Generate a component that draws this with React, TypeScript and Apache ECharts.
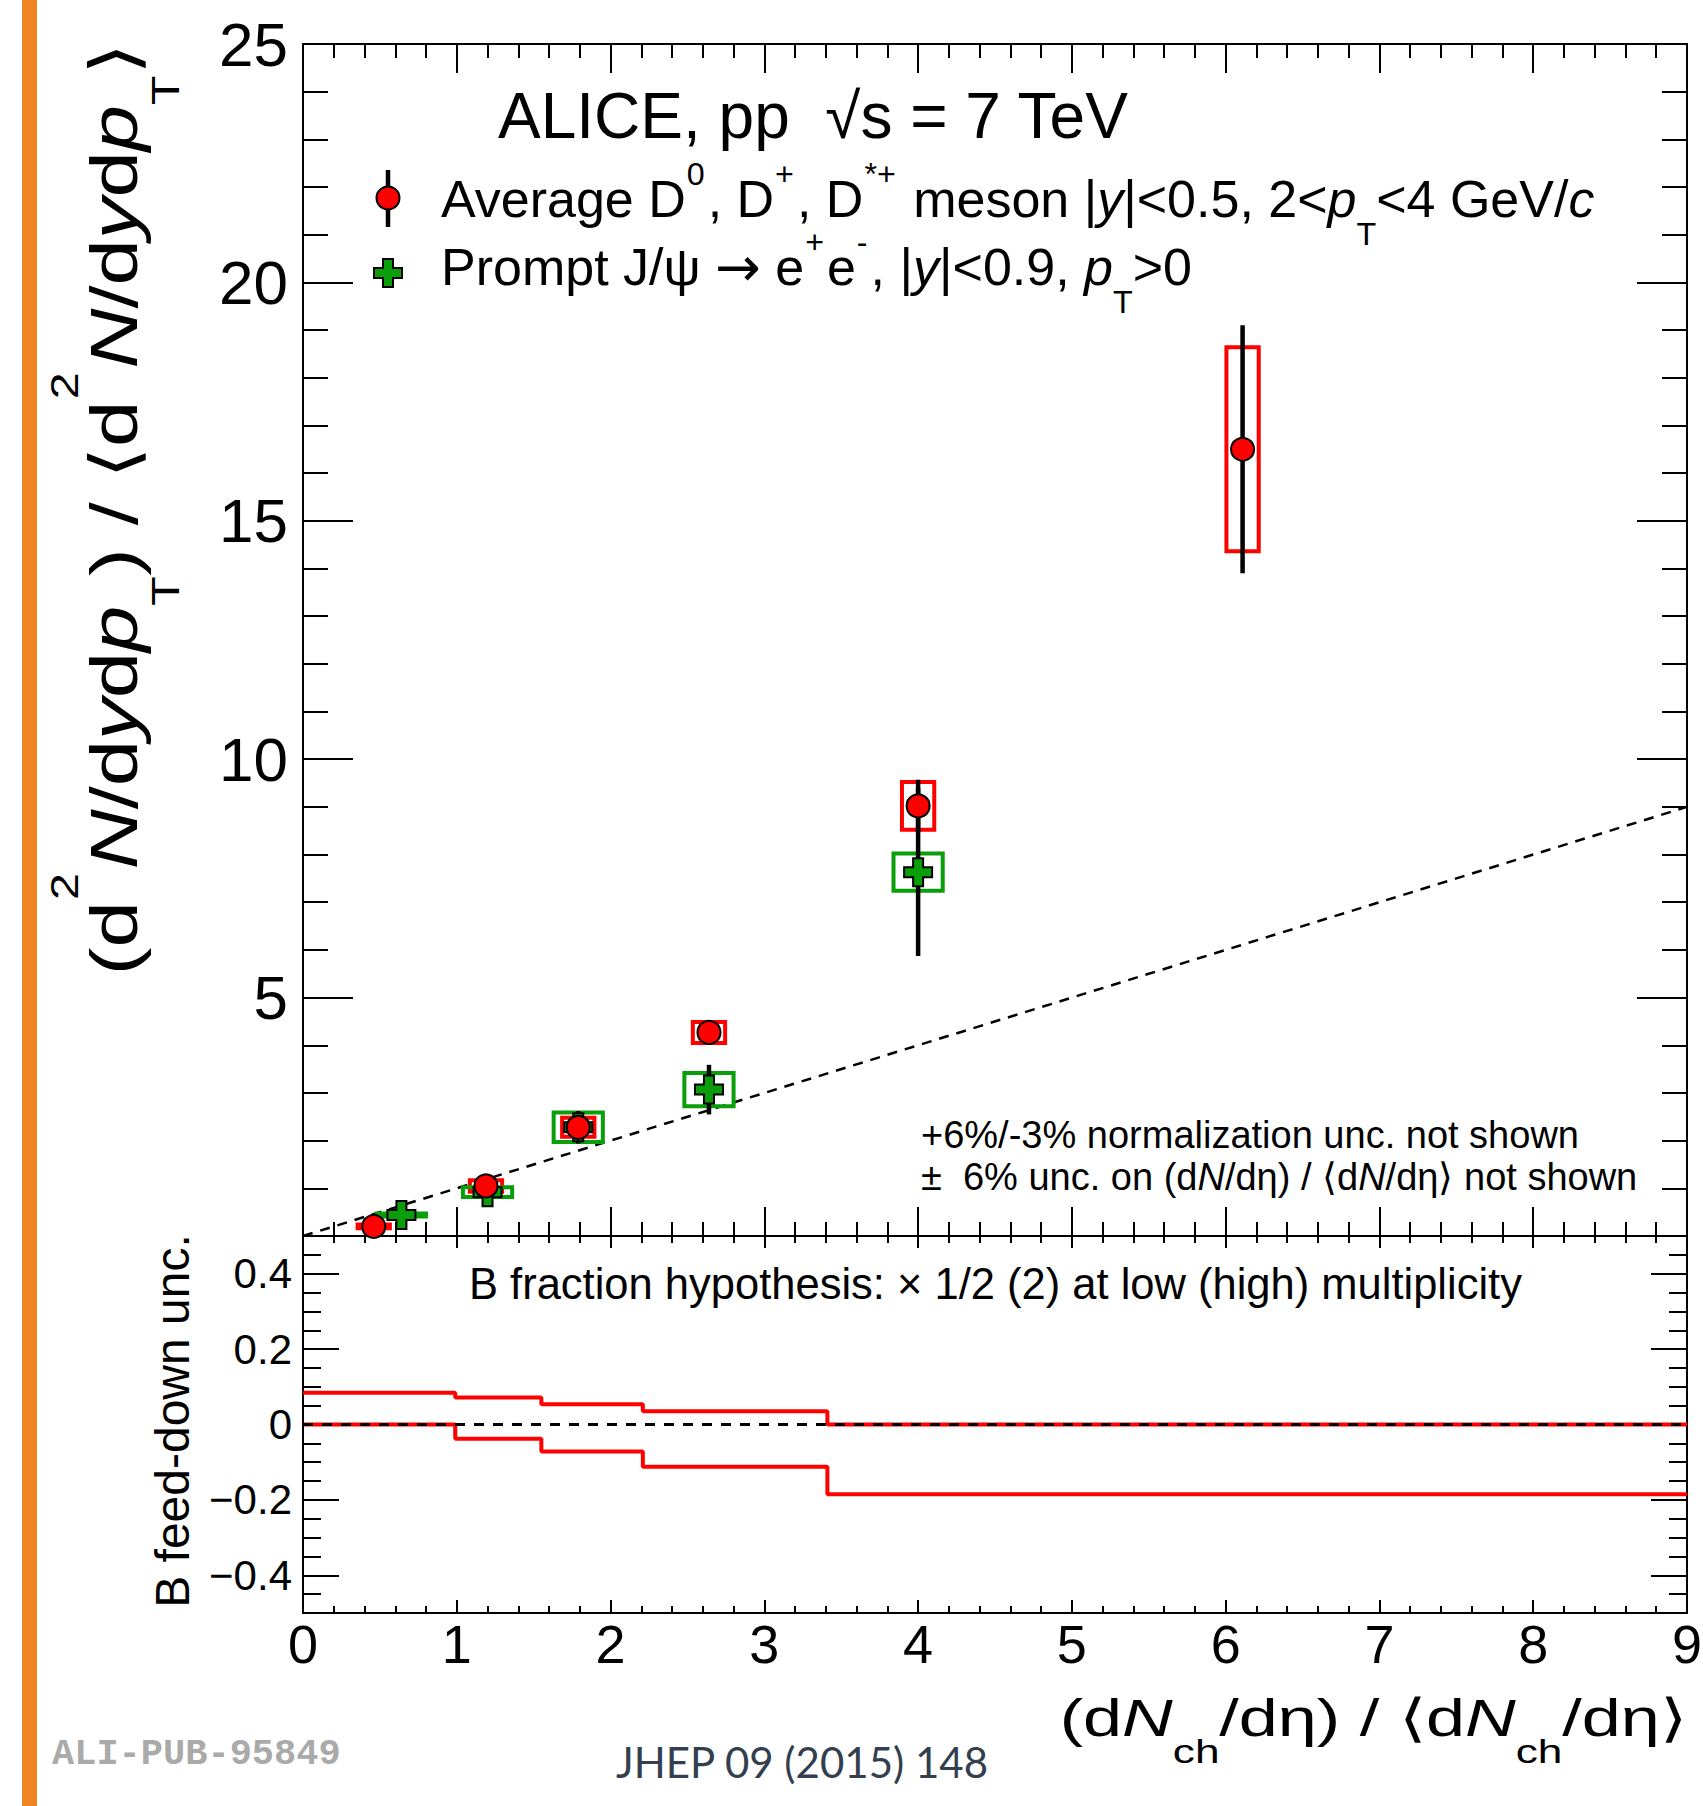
import React, { useEffect, useRef } from "react";
import * as echarts from "echarts";

const FONT = "'Liberation Sans', Arial, Helvetica, sans-serif";
const SYM_FONT = "'DejaVu Sans', 'Liberation Sans', sans-serif";

// ---------------- data ----------------
// Average D0, D+, D*+ (red circles)
const dMesonX = [0.46, 1.19, 1.79, 2.64, 4.0, 6.11];
const dMesonY = [0.2, 1.05, 2.28, 4.27, 9.02, 16.5];
const dMesonStat = [0.08, 0.19, 0.3, 0.2, 0.55, 2.6];
const dMesonSyst = [0.04, 0.12, 0.2, 0.22, 0.5, 2.14];

// Prompt J/psi (green crosses)
const jpsiX = [0.64, 1.2, 1.79, 2.64, 4.0];
const jpsiY = [0.44, 0.92, 2.28, 3.07, 7.63];
const jpsiStat = [0.28, 0.28, 0.34, 0.52, 1.76];
const jpsiSyst = [0.03, 0.1, 0.31, 0.35, 0.39];

// y = x reference line
const diagonalX = [0, 9];
const diagonalY = [0, 9];

// lower panel: B feed-down uncertainty bands
const binEdges = [0, 0.99, 1.55, 2.21, 3.41, 9];
const bFeedUpper = [0.084, 0.0715, 0.054, 0.035, 0.0];
const bFeedLower = [0.0, -0.038, -0.0715, -0.112, -0.185];
const zeroLineX = [0, 9];
const zeroLineY = [0, 0];

const lowerYMajorTicks = [-0.4, -0.2, 0, 0.2, 0.4];

// ---------------- layout / style ----------------
const PLOT_L = 303;
const PLOT_W = 1384;
const MAIN_T = 44;
const MAIN_H = 1192;
const LOW_T = 1236;
const LOW_H = 377;

const RED = "#ff0000";
const GREEN = "#0a9e0a";
const D_BOX_HALF_W = 0.105;
const JPSI_BOX_HALF_W = 0.16;
const PLUS_PATH = "path://M9,0H19V9H28V19H19V28H9V19H0V9H9Z";

const tickLine = { color: "#000", width: 2 };
const axisLine = { show: true, onZero: false, lineStyle: { color: "#000", width: 2 } };

function stepData(edges: number[], vals: number[]) {
  const d = vals.map((v, i) => [edges[i], v]);
  d.push([edges[edges.length - 1], vals[vals.length - 1]]);
  return d;
}

function richSet(F: number, supR: number, subR: number, a: number, b: number, L: number) {
  return {
    i: { fontFamily: FONT, fontSize: F, fontStyle: "italic", lineHeight: L, fill: "#000" },
    sym: { fontFamily: SYM_FONT, fontSize: F * 1.05, lineHeight: L, fill: "#000" },
    sup: {
      fontFamily: FONT,
      fontSize: F * supR,
      height: L - 2 * a * F,
      verticalAlign: "top",
      padding: [0, 3, 0, 1],
      fill: "#000",
    },
    sub: {
      fontFamily: FONT,
      fontSize: F * subR,
      height: L - 2 * b * F,
      verticalAlign: "bottom",
      fill: "#000",
    },
  };
}

function richText(
  text: string,
  x: number,
  y: number,
  F: number,
  opts: { supR?: number; subR?: number; a?: number; b?: number; Lr?: number; align?: string; rotation?: number; scaleX?: number }
) {
  const L = F * (opts.Lr ?? 1.6);
  return {
    type: "text",
    x,
    y,
    rotation: opts.rotation ?? 0,
    scaleX: opts.scaleX ?? 1,
    z: 50,
    style: {
      text,
      fontFamily: FONT,
      fontSize: F,
      lineHeight: L,
      fill: "#000",
      align: opts.align ?? "left",
      verticalAlign: "middle",
      rich: richSet(F, opts.supR ?? 0.62, opts.subR ?? 0.62, opts.a ?? 0.48, opts.b ?? 0.67, L),
    },
  };
}

function boxRender(color: string, halfW: number) {
  return (params: any, api: any) => {
    const x = api.value(0);
    const y = api.value(1);
    const e = api.value(2);
    const tl = api.coord([x - halfW, y + e]);
    const br = api.coord([x + halfW, y - e]);
    return {
      type: "rect",
      shape: { x: tl[0], y: tl[1], width: br[0] - tl[0], height: br[1] - tl[1] },
      style: { fill: "none", stroke: color, lineWidth: 4 },
    };
  };
}

function statRender(params: any, api: any) {
  const x = api.value(0);
  const y = api.value(1);
  const e = api.value(2);
  const p1 = api.coord([x, y + e]);
  const p2 = api.coord([x, y - e]);
  return {
    type: "line",
    shape: { x1: p1[0], y1: p1[1], x2: p2[0], y2: p2[1] },
    style: { stroke: "#000", lineWidth: 4.5 },
  };
}

function xAxisCfg(gridIndex: number, position: string, major: number, minor: number, showLabel: boolean) {
  return {
    type: "value",
    gridIndex,
    position,
    min: 0,
    max: 9,
    interval: 1,
    axisLine,
    axisTick: { show: true, inside: true, length: major, lineStyle: tickLine },
    minorTick: { show: true, splitNumber: 5, length: minor, lineStyle: tickLine },
    splitLine: { show: false },
    minorSplitLine: { show: false },
    axisLabel: showLabel
      ? { show: true, fontFamily: FONT, fontSize: 54, color: "#000", margin: 4 }
      : { show: false },
  };
}

function buildOption() {
  const dData = dMesonX.map((x, i) => [x, dMesonY[i]]);
  const jData = jpsiX.map((x, i) => [x, jpsiY[i]]);
  const dSys = dMesonX.map((x, i) => [x, dMesonY[i], dMesonSyst[i]]);
  const jSys = jpsiX.map((x, i) => [x, jpsiY[i], jpsiSyst[i]]);
  const dStat = dMesonX.map((x, i) => [x, dMesonY[i], dMesonStat[i]]);
  const jStat = jpsiX.map((x, i) => [x, jpsiY[i], jpsiStat[i]]);

  const lowerLabelFmt = (v: number) => {
    const r = Math.round(v * 100);
    if (r % 20 !== 0) return "";
    if (r === 0) return "0";
    return (r < 0 ? "\u2212" : "") + (Math.abs(r) / 100).toFixed(1);
  };

  return {
    animation: false,
    backgroundColor: "#ffffff",
    grid: [
      { left: PLOT_L, top: MAIN_T, width: PLOT_W, height: MAIN_H, show: false, outerBoundsMode: "none" },
      { left: PLOT_L, top: LOW_T, width: PLOT_W, height: LOW_H, show: false, outerBoundsMode: "none" },
    ],
    xAxis: [
      xAxisCfg(0, "bottom", 29, 14, false),
      xAxisCfg(0, "top", 29, 14, false),
      xAxisCfg(1, "bottom", 13, 7, true),
      xAxisCfg(1, "top", 12, 7, false),
    ],
    yAxis: [
      {
        type: "value",
        gridIndex: 0,
        position: "left",
        min: 0,
        max: 25,
        interval: 5,
        axisLine,
        axisTick: { show: true, inside: true, length: 50, lineStyle: tickLine },
        minorTick: { show: true, splitNumber: 5, length: 25, lineStyle: tickLine },
        splitLine: { show: false },
        axisLabel: {
          show: true,
          fontFamily: FONT,
          fontSize: 62,
          color: "#000",
          margin: 15,
          formatter: (v: number) => (v === 0 ? "" : String(v)),
        },
      },
      {
        type: "value",
        gridIndex: 0,
        position: "right",
        min: 0,
        max: 25,
        interval: 5,
        axisLine,
        axisTick: { show: true, inside: true, length: 50, lineStyle: tickLine },
        minorTick: { show: true, splitNumber: 5, length: 25, lineStyle: tickLine },
        splitLine: { show: false },
        axisLabel: { show: false },
      },
      {
        type: "value",
        gridIndex: 1,
        position: "left",
        offset: 0,
        min: -0.5,
        max: 0.5,
        interval: 0.05,
        axisLine,
        axisTick: { show: true, inside: true, length: 18, lineStyle: tickLine },
        splitLine: { show: false },
        axisLabel: {
          show: true,
          fontFamily: FONT,
          fontSize: 42,
          color: "#000",
          margin: 11,
          formatter: lowerLabelFmt,
        },
      },
      {
        type: "value",
        gridIndex: 1,
        position: "right",
        offset: 0,
        min: -0.5,
        max: 0.5,
        interval: 0.05,
        axisLine,
        axisTick: { show: true, inside: true, length: 18, lineStyle: tickLine },
        splitLine: { show: false },
        axisLabel: { show: false },
      },
      {
        type: "value",
        gridIndex: 1,
        position: "left",
        offset: 0,
        min: -0.5,
        max: 0.5,
        interval: 0.1,
        axisLine,
        axisTick: { show: true, inside: true, length: 36, lineStyle: tickLine, customValues: lowerYMajorTicks },
        splitLine: { show: false },
        axisLabel: { show: false, customValues: lowerYMajorTicks },
      },
      {
        type: "value",
        gridIndex: 1,
        position: "right",
        offset: 0,
        min: -0.5,
        max: 0.5,
        interval: 0.1,
        axisLine,
        axisTick: { show: true, inside: true, length: 36, lineStyle: tickLine, customValues: lowerYMajorTicks },
        splitLine: { show: false },
        axisLabel: { show: false, customValues: lowerYMajorTicks },
      },
    ],
    series: [
      {
        type: "line",
        xAxisIndex: 0,
        yAxisIndex: 0,
        data: diagonalX.map((x, i) => [x, diagonalY[i]]),
        symbol: "none",
        silent: true,
        lineStyle: { color: "#000", width: 2.5, type: [10, 8] },
        z: 2,
      },
      {
        type: "custom",
        coordinateSystem: "cartesian2d",
        xAxisIndex: 0,
        yAxisIndex: 0,
        data: dSys,
        encode: { x: 0, y: 1 },
        renderItem: boxRender(RED, D_BOX_HALF_W),
        silent: true,
        z: 3,
      },
      {
        type: "custom",
        coordinateSystem: "cartesian2d",
        xAxisIndex: 0,
        yAxisIndex: 0,
        data: jSys,
        encode: { x: 0, y: 1 },
        renderItem: boxRender(GREEN, JPSI_BOX_HALF_W),
        silent: true,
        z: 3,
      },
      {
        type: "custom",
        coordinateSystem: "cartesian2d",
        xAxisIndex: 0,
        yAxisIndex: 0,
        data: jStat,
        encode: { x: 0, y: 1 },
        renderItem: statRender,
        silent: true,
        z: 4,
      },
      {
        type: "custom",
        coordinateSystem: "cartesian2d",
        xAxisIndex: 0,
        yAxisIndex: 0,
        data: dStat,
        encode: { x: 0, y: 1 },
        renderItem: statRender,
        silent: true,
        z: 4,
      },
      {
        type: "scatter",
        xAxisIndex: 0,
        yAxisIndex: 0,
        data: jData,
        symbol: PLUS_PATH,
        symbolSize: 28,
        silent: true,
        itemStyle: { color: GREEN, borderColor: "#000", borderWidth: 2, opacity: 1 },
        z: 5,
      },
      {
        type: "scatter",
        xAxisIndex: 0,
        yAxisIndex: 0,
        data: dData,
        symbol: "circle",
        symbolSize: 23,
        silent: true,
        itemStyle: { color: RED, borderColor: "#000", borderWidth: 2, opacity: 1 },
        z: 6,
      },
      {
        type: "line",
        xAxisIndex: 2,
        yAxisIndex: 2,
        step: "end",
        data: stepData(binEdges, bFeedUpper),
        symbol: "none",
        silent: true,
        lineStyle: { color: RED, width: 4 },
        z: 3,
      },
      {
        type: "line",
        xAxisIndex: 2,
        yAxisIndex: 2,
        step: "end",
        data: stepData(binEdges, bFeedLower),
        symbol: "none",
        silent: true,
        lineStyle: { color: RED, width: 4 },
        z: 3,
      },
      {
        type: "line",
        xAxisIndex: 2,
        yAxisIndex: 2,
        data: zeroLineX.map((x, i) => [x, zeroLineY[i]]),
        symbol: "none",
        silent: true,
        lineStyle: { color: "#000", width: 3, type: [10, 9] },
        z: 4,
      },
    ],
    graphic: {
      elements: [
        {
          type: "rect",
          shape: { x: 22, y: 0, width: 15, height: 1806 },
          style: { fill: "#EF8523" },
          z: 50,
        },
        {
          type: "text",
          x: 498,
          y: 116,
          z: 50,
          style: {
            text: "ALICE, pp  \u221As = 7 TeV",
            fontFamily: FONT,
            fontSize: 64,
            fill: "#000",
            align: "left",
            verticalAlign: "middle",
          },
        },
        // legend markers
        {
          type: "line",
          shape: { x1: 388, y1: 170, x2: 388, y2: 227 },
          style: { stroke: "#000", lineWidth: 4.5 },
          z: 50,
        },
        {
          type: "circle",
          shape: { cx: 388, cy: 198, r: 11.5 },
          style: { fill: RED, stroke: "#000", lineWidth: 2 },
          z: 51,
        },
        {
          type: "polygon",
          shape: {
            points: [
              [383, 259], [393, 259], [393, 268], [402, 268], [402, 278], [393, 278],
              [393, 287], [383, 287], [383, 278], [374, 278], [374, 268], [383, 268],
            ],
          },
          style: { fill: GREEN, stroke: "#000", lineWidth: 2 },
          z: 51,
        },
        richText(
          "Average D{sup|0}, D{sup|+}, D{sup|*+} meson |{i|y}|<0.5, 2<{i|p}{sub|T}<4 GeV/{i|c}",
          441,
          199,
          52,
          {}
        ),
        richText(
          "Prompt J/\u03C8 {sym|\u2192} e{sup|+}e{sup|-}, |{i|y}|<0.9, {i|p}{sub|T}>0",
          441,
          267,
          52,
          {}
        ),
        richText("+6%/-3% normalization unc. not shown", 921, 1135, 38, {}),
        richText(
          "\u00B1  6% unc. on (d{i|N}/d\u03B7) / \u27E8d{i|N}/d\u03B7\u27E9 not shown",
          921,
          1177,
          38,
          {}
        ),
        richText(
          "B fraction hypothesis: \u00D7 1/2 (2) at low (high) multiplicity",
          469,
          1284,
          43.5,
          {}
        ),
        // y title main
        richText(
          "(d{sup|2}{i|N}/d{i|y}d{i|p}{sub|T}) / \u27E8d{sup|2}{i|N}/d{i|y}d{i|p}{sub|T}\u27E9",
          114,
          509,
          66,
          { rotation: Math.PI / 2, align: "center", supR: 0.58, subR: 0.58, a: 0.74, b: 0.78, Lr: 2.0, scaleX: 1.26 }
        ),
        // y title lower
        richText("B feed-down unc.", 172, 1421, 48, { rotation: Math.PI / 2, align: "center" }),
        // x title
        richText(
          "(d{i|N}{sub|ch}/d\u03B7) / \u27E8d{i|N}{sub|ch}/d\u03B7\u27E9",
          1687,
          1718,
          52,
          { align: "right", subR: 0.63, a: 0.5, b: 0.64, Lr: 1.6, scaleX: 1.35 }
        ),
        {
          type: "text",
          x: 52,
          y: 1754,
          z: 50,
          style: {
            text: "ALI-PUB-95849",
            fontFamily: "'Liberation Mono', 'DejaVu Sans Mono', monospace",
            fontWeight: "bold",
            fontSize: 37,
            fill: "#aaaaaa",
            align: "left",
            verticalAlign: "middle",
          },
        },
        {
          type: "text",
          x: 616,
          y: 1762,
          z: 50,
          style: {
            text: "JHEP 09 (2015) 148",
            fontFamily: "Lato, 'Open Sans', sans-serif",
            fontSize: 42,
            fill: "#333f4f",
            align: "left",
            verticalAlign: "middle",
          },
        },
      ],
    },
  };
}

export default function App() {
  const ref = useRef<HTMLDivElement>(null);
  useEffect(() => {
    if (!ref.current) return;
    const chart = echarts.init(ref.current, null, { renderer: "svg" });
    chart.setOption(buildOption() as any);
    return () => chart.dispose();
  }, []);
  return (
    <div
      ref={ref}
      style={{ position: "absolute", left: 0, top: 0, width: 1703, height: 1806, background: "#fff" }}
    />
  );
}
